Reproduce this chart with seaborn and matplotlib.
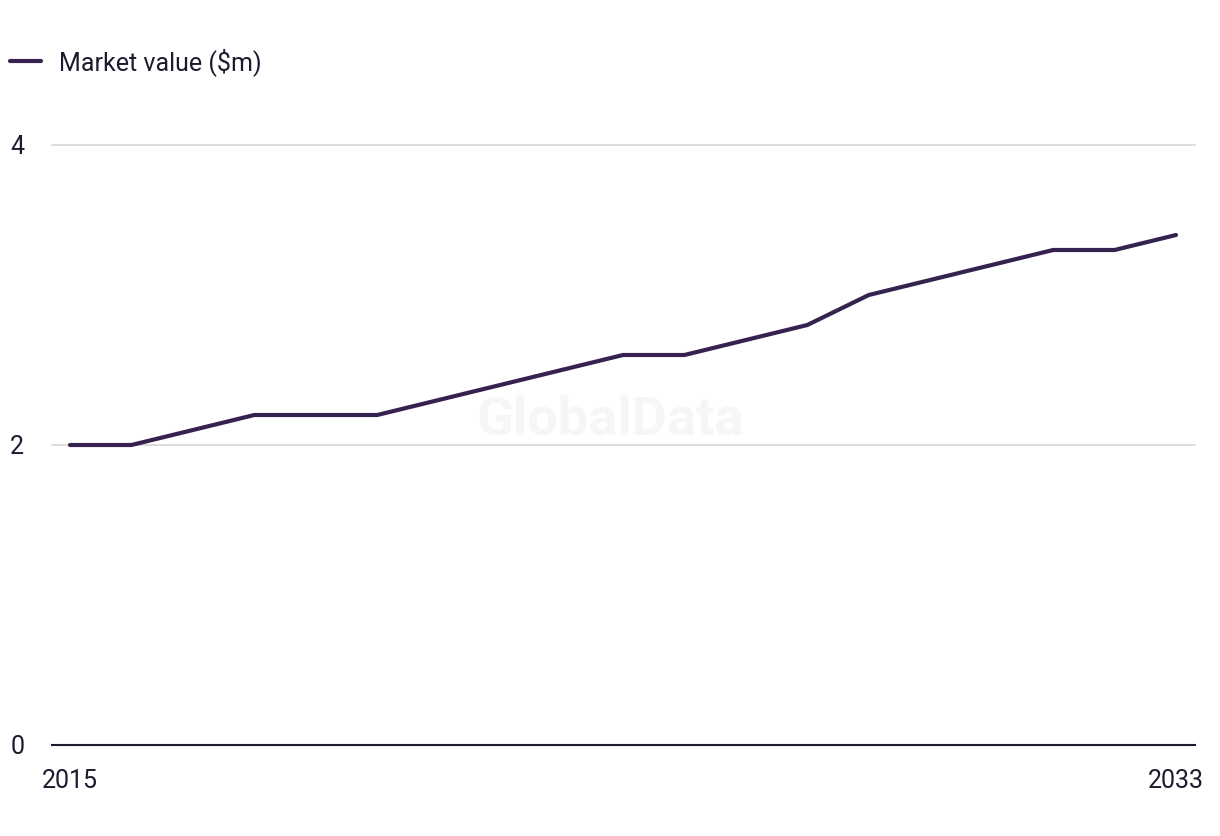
import matplotlib
matplotlib.use("Agg")
import matplotlib.pyplot as plt
import seaborn as sns
import pandas as pd

years = list(range(2015, 2034))
values = [2.0, 2.0, 2.1, 2.2, 2.2, 2.2, 2.3, 2.4, 2.5, 2.6, 2.6, 2.7, 2.8, 3.0, 3.1, 3.2, 3.3, 3.3, 3.4]
series_name = "Market value ($m)"
yticks = [0, 2, 4]
xticks = [2015, 2033]

df = pd.DataFrame({"year": years, "value": values, "series": series_name})

sns.set_theme(style="white")
plt.rcParams["font.family"] = ["Roboto", "DejaVu Sans"]

text_color = "#1c1c30"
line_color = "#36224f"
fs = 18

fig = plt.figure(figsize=(12.2, 8.36), dpi=100)
ax = fig.add_axes([52/1220, 1 - 745/836, (1195-52)/1220, (745-145)/836])

ax.text(0.488, 0.542, "GlobalData", transform=ax.transAxes, ha="center", va="center",
        fontsize=39, fontweight="bold", color="#f6f6f6", zorder=0)

sns.lineplot(data=df, x="year", y="value", hue="series", palette=[line_color],
             linewidth=3, ax=ax, legend=False, zorder=3)

ax.set_xlim(2015 - 18/61.44, 2033 + 19/61.44)
ax.set_ylim(0, 4)
ax.set_yticks(yticks)
ax.set_yticklabels([str(v) for v in yticks])
ax.set_xticks(xticks)
ax.set_xticklabels([str(v) for v in xticks])
ax.set_xlabel("")
ax.set_ylabel("")

for y in yticks[1:]:
    ax.axhline(y, color="#d6d6d9", linewidth=1.2, zorder=1, clip_on=False)

for s in ["top", "right", "left"]:
    ax.spines[s].set_visible(False)
ax.spines["bottom"].set_color(text_color)
ax.spines["bottom"].set_linewidth(1.5)

ax.tick_params(axis="y", length=0, pad=30, labelsize=fs, labelcolor=text_color)
ax.tick_params(axis="x", length=0, pad=17, labelsize=fs, labelcolor=text_color)
for lab in ax.get_yticklabels():
    lab.set_horizontalalignment("left")

# legend
from matplotlib.lines import Line2D
handle = Line2D([0], [0], color=line_color, linewidth=3)
fig.legend([handle], [series_name], loc="center left", bbox_to_anchor=(10/1220, 1 - 62/836),
           frameon=False, fontsize=fs, labelcolor=text_color, handlelength=1.24,
           handletextpad=0.72, borderaxespad=0, borderpad=0)

fig.savefig("out.png", dpi=100, facecolor="white")
